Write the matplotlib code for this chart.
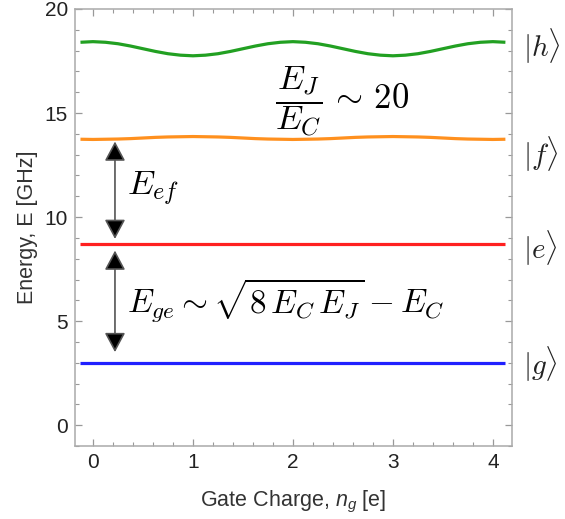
import matplotlib
matplotlib.use('Agg')
import matplotlib.pyplot as plt
from matplotlib.ticker import MultipleLocator

# gate charge grid (e) and level energies (GHz)
ng = [-0.125, 0.0, 0.125, 0.25, 0.375, 0.5, 0.625, 0.75, 0.875,
      1.0, 1.125, 1.25, 1.375, 1.5, 1.625, 1.75, 1.875,
      2.0, 2.125, 2.25, 2.375, 2.5, 2.625, 2.75, 2.875,
      3.0, 3.125, 3.25, 3.375, 3.5, 3.625, 3.75, 3.875, 4.0, 4.125]

E_h = [18.40, 18.43, 18.40, 18.33, 18.22, 18.09, 17.96, 17.85, 17.78,
       17.75, 17.78, 17.85, 17.96, 18.09, 18.22, 18.33, 18.40,
       18.43, 18.40, 18.33, 18.22, 18.09, 17.96, 17.85, 17.78,
       17.75, 17.78, 17.85, 17.96, 18.09, 18.22, 18.33, 18.40, 18.43, 18.40]

E_f = [13.74, 13.73, 13.74, 13.75, 13.77, 13.80, 13.83, 13.85, 13.86,
       13.87, 13.86, 13.85, 13.83, 13.80, 13.77, 13.75, 13.74,
       13.73, 13.74, 13.75, 13.77, 13.80, 13.83, 13.85, 13.86,
       13.87, 13.86, 13.85, 13.83, 13.80, 13.77, 13.75, 13.74, 13.73, 13.74]

E_e = 8.69
E_g = 3.0

state_labels = [r'$|h\rangle$', r'$|f\rangle$', r'$|e\rangle$', r'$|g\rangle$']
state_levels = [18.2, 13.0, 8.5, 2.9]

# arrow positions: (x, top tip, bottom tip)
arrows = [(0.22, 13.63, 8.95), (0.22, 8.39, 3.51)]

plt.rcParams['font.family'] = ['Liberation Sans', 'DejaVu Sans']
plt.rcParams['mathtext.fontset'] = 'custom'
plt.rcParams['mathtext.rm'] = 'Liberation Sans'
plt.rcParams['mathtext.it'] = 'Liberation Sans:italic'

fig = plt.figure(figsize=(5.65, 5.19), dpi=100)
ax = fig.add_axes([0.1327, 0.1407, 0.7733, 0.842])

ax.plot(ng, E_h, color='#22a022', lw=2.3, solid_capstyle='butt')
ax.plot(ng, E_f, color='#ff901e', lw=2.3, solid_capstyle='butt')
ax.plot([ng[0], ng[-1]], [E_e, E_e], color='#ff2020', lw=2.3, solid_capstyle='butt')
ax.plot([ng[0], ng[-1]], [E_g, E_g], color='#2020ff', lw=2.3, solid_capstyle='butt')

for x, y1, y2 in arrows:
    ax.annotate('', xy=(x, y1), xytext=(x, y2),
                arrowprops=dict(arrowstyle='<|-|>,head_length=0.6,head_width=0.32',
                                mutation_scale=20, fc='black', ec='#555555', lw=1.2,
                                shrinkA=0, shrinkB=0))

ax.text(0.34, 11.05, r'$E_{ef}$', fontsize=25, math_fontfamily='cm', va='baseline')
ax.text(0.34, 5.40, r'$E_{ge} \sim \sqrt{8\,E_C\,E_J} - E_C$', fontsize=24,
        math_fontfamily='cm', va='baseline')
ax.text(1.82, 15.2, r'$\dfrac{E_J}{E_C} \,\sim\, 20$', fontsize=25,
        math_fontfamily='cm', va='baseline')

for lab, lev in zip(state_labels, state_levels):
    ax.text(1.025, lev, lab, transform=ax.get_yaxis_transform(), fontsize=21,
            math_fontfamily='cm', va='center', ha='left', color='#222222')

ax.set_xlim(-0.18, 4.19)
ax.set_ylim(-1, 20)
ax.xaxis.set_major_locator(MultipleLocator(1))
ax.xaxis.set_minor_locator(MultipleLocator(0.2))
ax.yaxis.set_major_locator(MultipleLocator(5))
ax.yaxis.set_minor_locator(MultipleLocator(1))
ax.tick_params(which='both', direction='in', top=True, right=True, color='#999999',
               labelsize=15, labelcolor='#222222')
ax.tick_params(which='major', length=5, width=0.9, pad=5)
ax.tick_params(which='minor', length=3, width=0.8)
for sp in ax.spines.values():
    sp.set_color('#aaaaaa')
    sp.set_linewidth(1.1)

ax.set_xlabel(r'Gate Charge, $n_g$ [e]', fontsize=15.5, color='#333333', labelpad=12)
ax.set_ylabel('Energy, E [GHz]', fontsize=15.5, color='#333333', labelpad=5)

fig.savefig('out.png', dpi=100)
